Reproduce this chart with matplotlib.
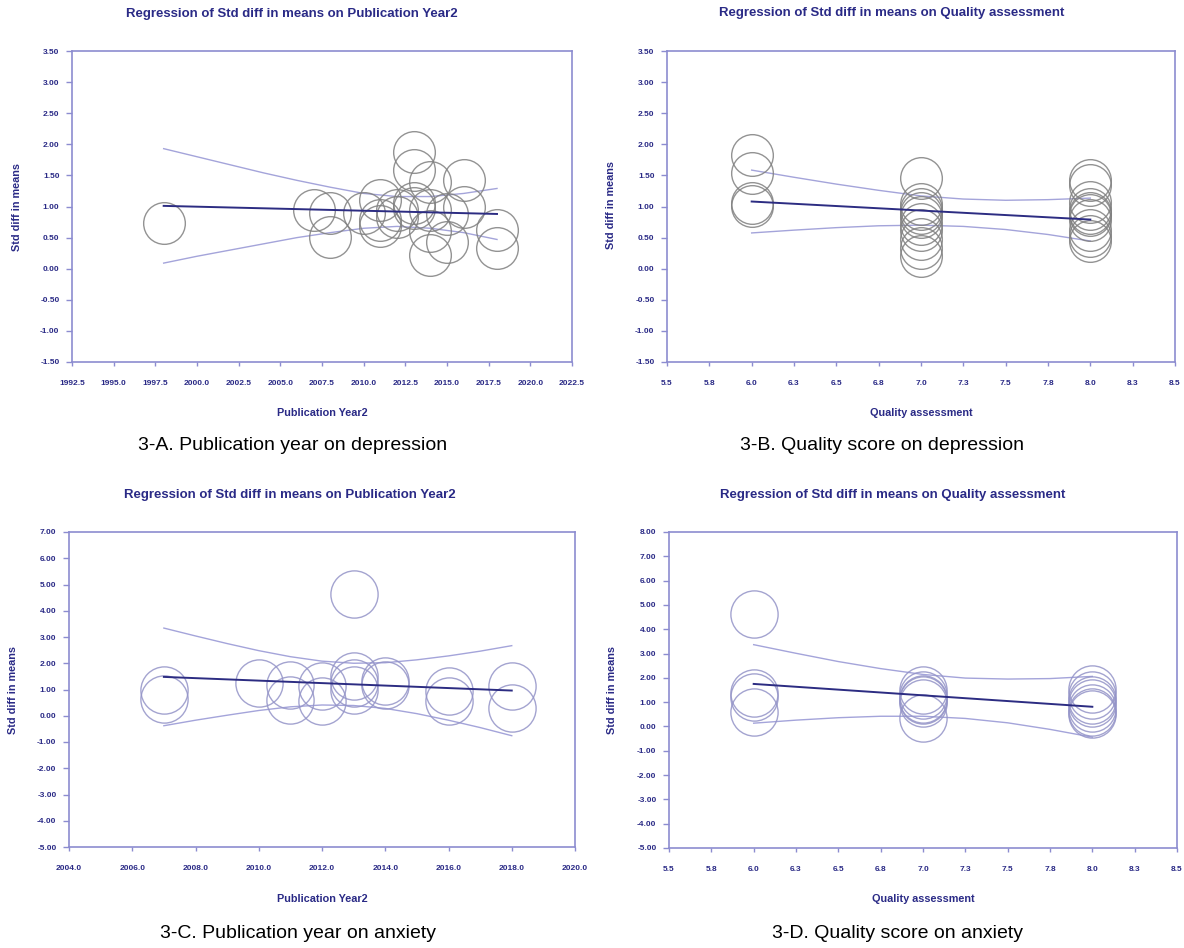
import numpy as np
import matplotlib
matplotlib.use("Agg")
import matplotlib.pyplot as plt

W, H = 1184, 948
plt.rcParams['font.family'] = ['Liberation Sans', 'DejaVu Sans']

NAVY = '#2a2a86'
SPINE = '#8c8cd0'
LINE = '#2c2c82'
CI = '#a4a4da'

# 3-A  depression ~ publication year
year_dep = [1998, 2007, 2008, 2008, 2010, 2011, 2011, 2011, 2012, 2012, 2013, 2013,
            2013, 2013, 2014, 2014, 2014, 2014, 2015, 2015, 2016, 2016, 2018, 2018]
smd_year_dep = [0.73, 0.94, 0.89, 0.51, 0.90, 1.10, 0.78, 0.68, 0.94, 0.83, 1.88, 1.59,
                0.97, 1.05, 1.40, 0.94, 0.60, 0.22, 0.43, 0.88, 1.43, 1.00, 0.63, 0.33]
fit_x_year_dep = [1998, 2018]
fit_y_year_dep = [1.01, 0.88]
ci_x_year_dep = [1998, 2000, 2002, 2004, 2006, 2008, 2010, 2012, 2014, 2016, 2018]
ci_hi_year_dep = [1.93, 1.80, 1.67, 1.54, 1.42, 1.31, 1.21, 1.16, 1.16, 1.21, 1.29]
ci_lo_year_dep = [0.09, 0.20, 0.30, 0.40, 0.50, 0.58, 0.65, 0.68, 0.65, 0.58, 0.47]

# 3-B  depression ~ quality score
qual_dep = [6, 6, 6, 6,
            7, 7, 7, 7, 7, 7, 7, 7, 7, 7,
            8, 8, 8, 8, 8, 8, 8, 8, 8, 8]
smd_qual_dep = [1.83, 1.54, 1.06, 1.01,
                1.46, 1.04, 0.96, 0.90, 0.83, 0.72, 0.62, 0.48, 0.33, 0.20,
                1.42, 1.34, 1.08, 0.96, 0.90, 0.86, 0.78, 0.62, 0.52, 0.45]
fit_x_qual_dep = [6, 8]
fit_y_qual_dep = [1.08, 0.79]
ci_x_qual_dep = [6.0, 6.25, 6.5, 6.75, 7.0, 7.25, 7.5, 7.75, 8.0]
ci_hi_qual_dep = [1.585, 1.47, 1.36, 1.26, 1.17, 1.12, 1.10, 1.11, 1.135]
ci_lo_qual_dep = [0.575, 0.62, 0.66, 0.69, 0.70, 0.68, 0.63, 0.55, 0.445]

# 3-C  anxiety ~ publication year
year_anx = [2007, 2007, 2010, 2011, 2011, 2012, 2012, 2013, 2013, 2013, 2013,
            2014, 2014, 2016, 2016, 2018, 2018]
smd_year_anx = [0.99, 0.64, 1.25, 1.18, 0.61, 1.12, 0.58, 4.65, 1.50, 1.25, 0.98,
                1.31, 1.18, 0.93, 0.58, 1.12, 0.30]
fit_x_year_anx = [2007, 2018]
fit_y_year_anx = [1.48, 0.96]
ci_x_year_anx = [2007, 2008, 2009, 2010, 2011, 2012, 2013, 2014, 2015, 2016, 2017, 2018]
ci_hi_year_anx = [3.34, 3.04, 2.75, 2.48, 2.25, 2.08, 2.00, 2.02, 2.13, 2.28, 2.46, 2.67]
ci_lo_year_anx = [-0.38, -0.17, 0.02, 0.20, 0.34, 0.41, 0.39, 0.28, 0.08, -0.17, -0.45, -0.76]

# 3-D  anxiety ~ quality score
qual_anx = [6, 6, 6, 6,
            7, 7, 7, 7, 7, 7,
            8, 8, 8, 8, 8, 8, 8]
smd_qual_anx = [4.63, 1.39, 1.22, 0.58,
                1.50, 1.29, 1.09, 0.95, 1.15, 0.33,
                1.55, 1.30, 1.10, 0.95, 0.75, 0.58, 0.50]
fit_x_qual_anx = [6, 8]
fit_y_qual_anx = [1.75, 0.81]
ci_x_qual_anx = [6.0, 6.25, 6.5, 6.75, 7.0, 7.25, 7.5, 7.75, 8.0]
ci_hi_qual_anx = [3.365, 3.01, 2.67, 2.38, 2.14, 1.99, 1.95, 1.97, 2.06]
ci_lo_qual_anx = [0.135, 0.26, 0.36, 0.42, 0.42, 0.33, 0.15, -0.12, -0.44]

year_ticks_dep = [1992.5 + 2.5 * i for i in range(13)]
year_ticks_anx = [2004 + 2 * i for i in range(9)]
qual_ticks = [5.5 + 0.25 * i for i in range(13)]
qual_ticklabels = ['5.5', '5.8', '6.0', '6.3', '6.5', '6.8', '7.0', '7.3', '7.5', '7.8', '8.0', '8.3', '8.5']

TITLE_YEAR = 'Regression of Std diff in means on Publication Year2'
TITLE_QUAL = 'Regression of Std diff in means on Quality assessment'


def px(x, y):
    return x / W, 1 - y / H


fig = plt.figure(figsize=(W / 100, H / 100), dpi=100)
fig.patch.set_facecolor('white')


def panel(box, x, y, fx, fy, cx, chi, clo, xticks, xlabels, yticks, circ, ms,
          title, xlab, caption, t_xy, xl_xy, yl_xy, cap_xy):
    l, t, r, b = box
    ax = fig.add_axes([l / W, 1 - b / H, (r - l) / W, (b - t) / H])
    ax.plot(cx, chi, color=CI, lw=1.0, zorder=2)
    ax.plot(cx, clo, color=CI, lw=1.0, zorder=2)
    ax.plot(x, y, 'o', mfc='none', mec=circ, mew=1.0, ms=ms, alpha=0.85, zorder=3)
    ax.plot(fx, fy, color=LINE, lw=1.4, zorder=4)
    ax.set_xlim(xticks[0], xticks[-1])
    ax.set_ylim(yticks[0], yticks[-1])
    ax.set_xticks(xticks)
    ax.set_xticklabels(xlabels)
    ax.set_yticks(yticks)
    ax.set_yticklabels([f'{v:.2f}' for v in yticks])
    for s in ax.spines.values():
        s.set_color(SPINE)
        s.set_linewidth(1.2)
    ax.tick_params(axis='x', direction='out', length=3, width=1, color=SPINE,
                   pad=10, labelsize=6, labelcolor=NAVY)
    ax.tick_params(axis='y', direction='out', length=4, width=1, color=SPINE,
                   pad=5, labelsize=6, labelcolor=NAVY)
    for lab in ax.get_xticklabels() + ax.get_yticklabels():
        lab.set_fontweight('bold')
    fig.text(*px(*t_xy), title, ha='center', va='center', fontsize=9.5,
             fontweight='bold', color=NAVY)
    fig.text(*px(*xl_xy), xlab, ha='center', va='center', fontsize=7.8,
             fontweight='bold', color=NAVY)
    fig.text(*px(*yl_xy), 'Std diff in means', ha='center', va='center', fontsize=7.8,
             fontweight='bold', color=NAVY, rotation=90)
    fig.text(*px(*cap_xy), caption, ha='center', va='center', fontsize=14, color='black')
    return ax


panel((72, 51, 572, 362), year_dep, smd_year_dep, fit_x_year_dep, fit_y_year_dep,
      ci_x_year_dep, ci_hi_year_dep, ci_lo_year_dep,
      year_ticks_dep, [f'{v:.1f}' for v in year_ticks_dep],
      [-1.5 + 0.5 * i for i in range(11)], '#808080', 30,
      TITLE_YEAR, 'Publication Year2', '3-A. Publication year on depression',
      (292, 14), (322, 413), (17, 207), (293, 446))

panel((667, 51, 1175, 362), qual_dep, smd_qual_dep, fit_x_qual_dep, fit_y_qual_dep,
      ci_x_qual_dep, ci_hi_qual_dep, ci_lo_qual_dep,
      qual_ticks, qual_ticklabels,
      [-1.5 + 0.5 * i for i in range(11)], '#808080', 30,
      TITLE_QUAL, 'Quality assessment', '3-B. Quality score on depression',
      (892, 13), (921, 413), (611, 205), (882, 446))

panel((69, 532, 575, 847), year_anx, smd_year_anx, fit_x_year_anx, fit_y_year_anx,
      ci_x_year_anx, ci_hi_year_anx, ci_lo_year_anx,
      year_ticks_anx, [f'{v:.1f}' for v in year_ticks_anx],
      [-5 + i for i in range(13)], '#9494c8', 34,
      TITLE_YEAR, 'Publication Year2', '3-C. Publication year on anxiety',
      (290, 495), (322, 899), (13, 690), (298, 933))

panel((669, 532, 1177, 848), qual_anx, smd_qual_anx, fit_x_qual_anx, fit_y_qual_anx,
      ci_x_qual_anx, ci_hi_qual_anx, ci_lo_qual_anx,
      qual_ticks, qual_ticklabels,
      [-5 + i for i in range(14)], '#9494c8', 34,
      TITLE_QUAL, 'Quality assessment', '3-D. Quality score on anxiety',
      (893, 495), (923, 899), (612, 690), (898, 933))

fig.savefig('out.png', dpi=100, facecolor='white')
